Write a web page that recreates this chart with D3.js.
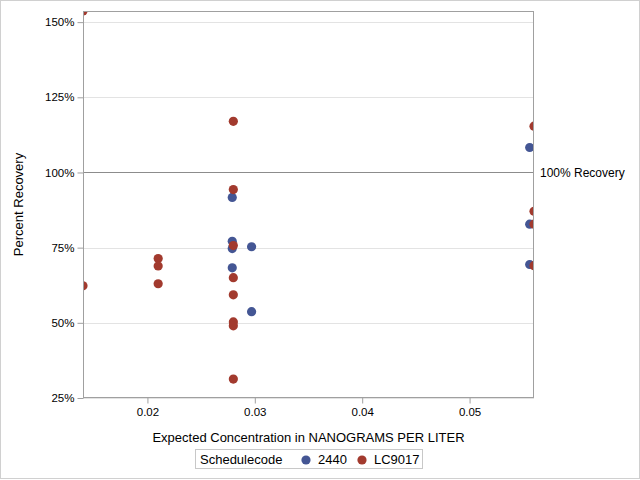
<!DOCTYPE html>
<html><head><meta charset="utf-8">
<script src="https://cdn.jsdelivr.net/npm/d3@7/dist/d3.min.js"></script>
<style>body{margin:0;background:#fff}svg{display:block;font-family:"Liberation Sans",Arial,sans-serif}</style>
</head><body>
<script>
const seriesNames = ["2440", "LC9017"];
const seriesColors = ["#445694", "#A23A2E"];
const x2440 = [0.0279, 0.0279, 0.0279, 0.0279, 0.0297, 0.0297, 0.0556, 0.0556, 0.0556];
const y2440 = [91.7, 77.1, 74.7, 68.3, 75.3, 53.7, 108.3, 82.8, 69.4];
const xLC9017 = [0.014, 0.014, 0.021, 0.021, 0.021, 0.028, 0.028, 0.028, 0.028, 0.028, 0.028, 0.028, 0.028, 0.056, 0.056, 0.056, 0.056];
const yLC9017 = [153.7, 62.3, 71.4, 68.9, 63.0, 117.0, 94.3, 75.7, 65.0, 59.3, 50.3, 49.0, 31.3, 115.4, 87.1, 82.8, 69.0];
const xTicks = [0.02, 0.03, 0.04, 0.05];
const yTicks = [25, 50, 75, 100, 125, 150];
const refValue = 100;
const refLabel = "100% Recovery";
const xTitle = "Expected Concentration in NANOGRAMS PER LITER";
const yTitle = "Percent Recovery";
const legendTitle = "Schedulecode";

const W = 640, H = 480;
const m = {left: 83, right: 534, top: 11, bottom: 398};
const svg = d3.select("body").append("svg").attr("width", W).attr("height", H);
svg.append("rect").attr("x",0.5).attr("y",0.5).attr("width",W-1).attr("height",H-2)
  .attr("fill","#fff").attr("stroke","#d0d0d0");

const x = d3.scaleLinear().domain([0.014, 0.056]).range([m.left, m.right]);
const y = d3.scaleLinear().domain([25, 153.7]).range([m.bottom, m.top]);

// grid
svg.append("g").selectAll("line").data(yTicks.filter(t => t !== refValue)).join("line")
  .attr("x1", m.left).attr("x2", m.right)
  .attr("y1", d => Math.round(y(d))+0.5).attr("y2", d => Math.round(y(d))+0.5)
  .attr("stroke", "#e3e3e3");

// reference line
svg.append("line").attr("x1", m.left).attr("x2", m.right)
  .attr("y1", Math.round(y(refValue))+0.5).attr("y2", Math.round(y(refValue))+0.5)
  .attr("stroke", "#8c8c8c");
svg.append("text").attr("x", m.right+6).attr("y", y(refValue)).attr("dy","0.35em")
  .attr("font-size", 12).attr("fill","#000").text(refLabel);

// clip
svg.append("clipPath").attr("id","clip").append("rect")
  .attr("x", m.left).attr("y", m.top).attr("width", m.right-m.left).attr("height", m.bottom-m.top);

const pts = svg.append("g").attr("clip-path","url(#clip)");
const sets = [[x2440, y2440], [xLC9017, yLC9017]];
sets.forEach((s, i) => {
  pts.append("g").selectAll("circle").data(s[0].map((v, j) => [v, s[1][j]])).join("circle")
    .attr("cx", d => x(d[0])).attr("cy", d => y(d[1])).attr("r", 4.6)
    .attr("fill", seriesColors[i]);
});

// frame
svg.append("rect").attr("x", m.left+0.5).attr("y", m.top+0.5)
  .attr("width", m.right-m.left-1).attr("height", m.bottom-m.top-1)
  .attr("fill","none").attr("stroke","#a0a0a0");

// axes
const xAxis = svg.append("g").attr("transform", `translate(0,${m.bottom-0.5})`)
  .call(d3.axisBottom(x).tickValues(xTicks).tickFormat(d3.format(".2f")).tickSizeOuter(0).tickSize(6).tickPadding(4));
const yAxis = svg.append("g").attr("transform", `translate(${m.left+0.5},0)`)
  .call(d3.axisLeft(y).tickValues(yTicks).tickFormat(d => d + "%").tickSizeOuter(0).tickSize(6).tickPadding(3));
[xAxis, yAxis].forEach(a => {
  a.select(".domain").remove();
  a.selectAll("line").attr("stroke", "#a0a0a0");
  a.selectAll("text").attr("font-size", 11.5).attr("fill", "#000").attr("font-family", '"Liberation Sans",Arial,sans-serif');
});

// titles
svg.append("text").attr("x", (m.left+m.right)/2).attr("y", 442).attr("text-anchor","middle")
  .attr("font-size", 13).attr("fill","#000").text(xTitle);
svg.append("text").attr("transform", `translate(23,${(m.top+m.bottom)/2}) rotate(-90)`)
  .attr("text-anchor","middle").attr("font-size", 13).attr("fill","#000").text(yTitle);

// legend
const lg = svg.append("g");
lg.append("rect").attr("x", 195.5).attr("y", 449.5).attr("width", 227).attr("height", 19)
  .attr("fill","#fff").attr("stroke","#c8c8c8");
lg.append("text").attr("x", 200).attr("y", 459).attr("dy","0.35em").attr("font-size",13).text(legendTitle);
const legX = [306, 362];
seriesNames.forEach((n, i) => {
  lg.append("circle").attr("cx", legX[i]).attr("cy", 460).attr("r", 4.6).attr("fill", seriesColors[i]);
  lg.append("text").attr("x", legX[i]+12).attr("y", 459).attr("dy","0.35em").attr("font-size",13).text(n);
});
</script>
</body></html>
